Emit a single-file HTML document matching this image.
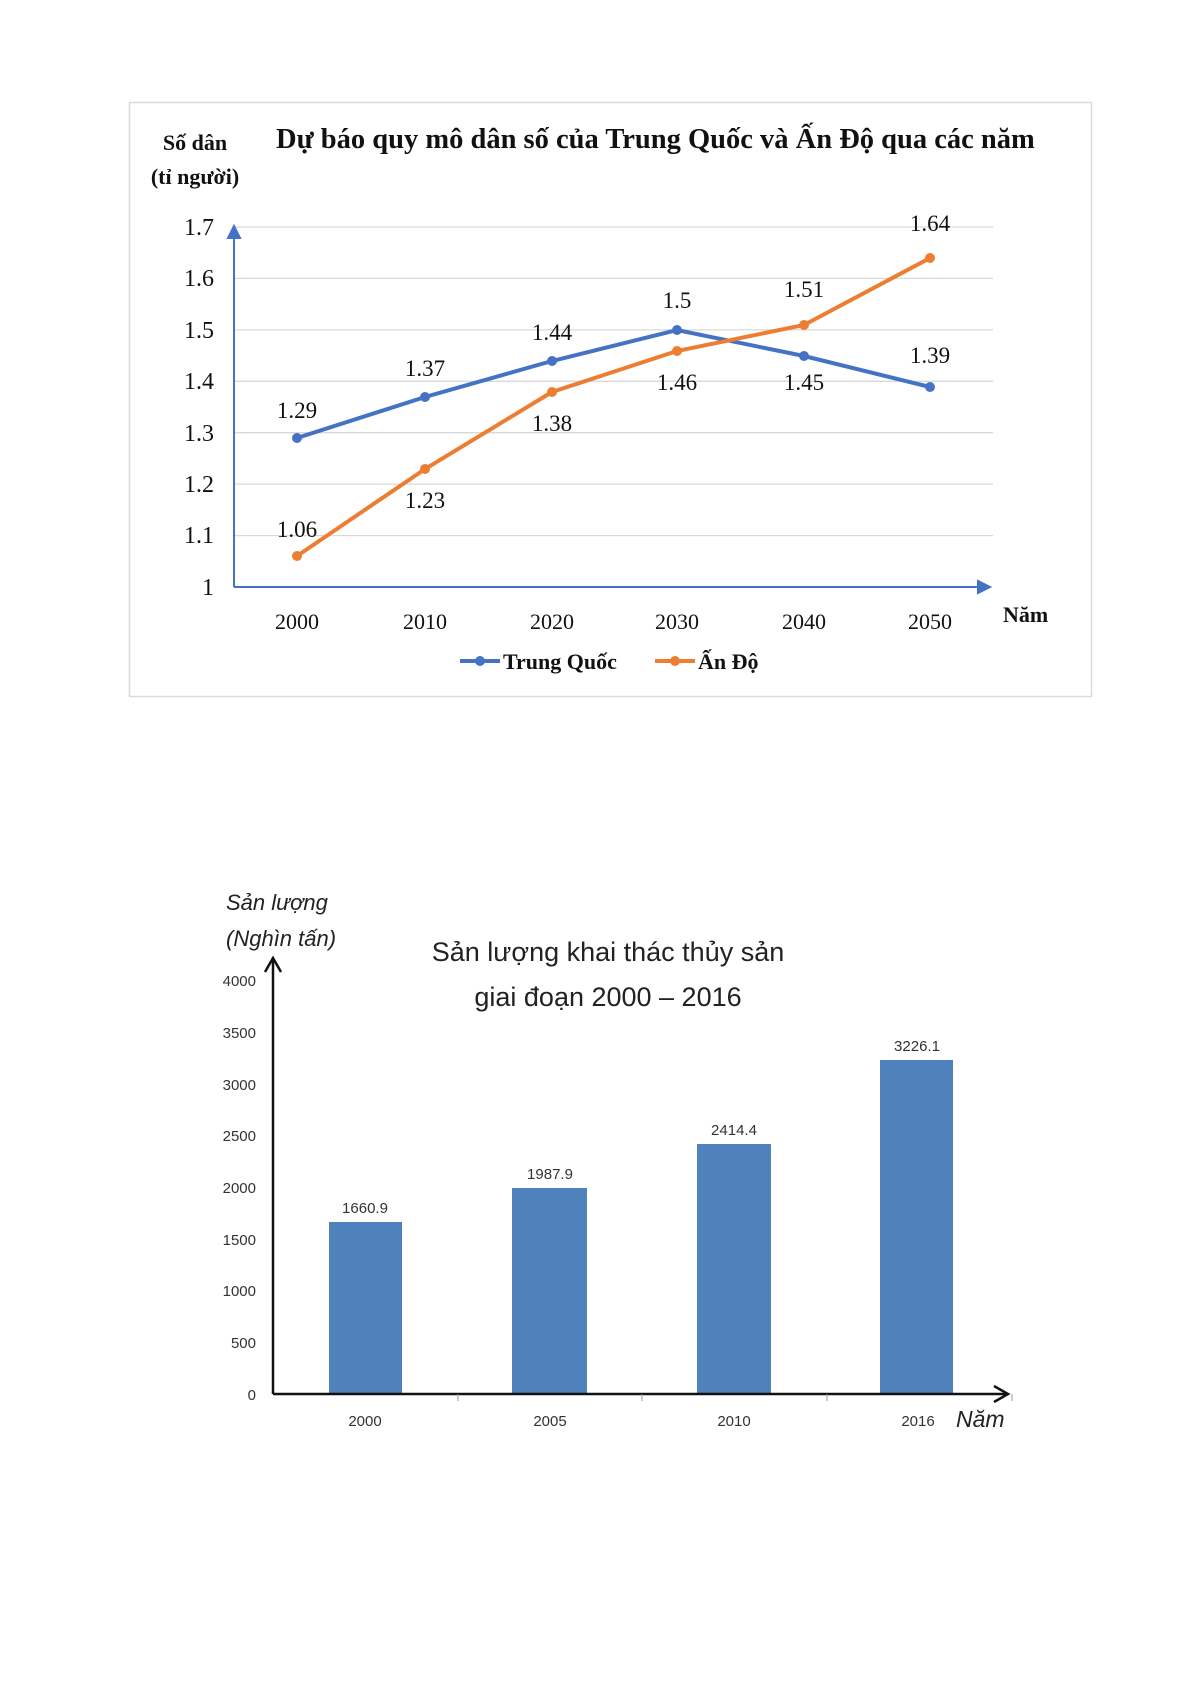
<!DOCTYPE html>
<html><head><meta charset="utf-8"><style>
body{margin:0;background:#fff;width:1192px;height:1684px;overflow:hidden}
svg{position:absolute;left:0;top:0}
.t{font-family:"Liberation Serif",serif}
.s{font-family:"Liberation Sans",sans-serif}
</style></head><body>
<svg width="1192" height="1684" viewBox="0 0 1192 1684">
<rect x="129.5" y="102.5" width="962" height="594" fill="#fff" stroke="#d9d9d9" stroke-width="1.5"/>
<g class="t" font-weight="bold" fill="#111">
<text x="195" y="150" font-size="22" text-anchor="middle">Số dân</text>
<text x="195" y="184" font-size="22" text-anchor="middle">(tỉ người)</text>
<text x="276" y="148" font-size="28.5">Dự báo quy mô dân số của Trung Quốc và Ấn Độ qua các năm</text>
<text x="1003" y="622" font-size="22">Năm</text>
</g>
<g stroke="#d9d9d9" stroke-width="1.3">
<line x1="234" y1="227" x2="993" y2="227"/><line x1="234" y1="278.4" x2="993" y2="278.4"/>
<line x1="234" y1="329.9" x2="993" y2="329.9"/><line x1="234" y1="381.3" x2="993" y2="381.3"/>
<line x1="234" y1="432.7" x2="993" y2="432.7"/><line x1="234" y1="484.1" x2="993" y2="484.1"/>
<line x1="234" y1="535.6" x2="993" y2="535.6"/>
</g>
<g stroke="#4472c4" stroke-width="2" fill="#4472c4">
<line x1="234" y1="587" x2="234" y2="236"/><polygon points="228,238 240,238 234,226"/>
<line x1="234" y1="587" x2="980" y2="587"/><polygon points="978,581 978,593 990,587"/>
</g>
<g class="t" font-size="24" fill="#111" text-anchor="end">
<text x="214" y="235">1.7</text><text x="214" y="286">1.6</text><text x="214" y="338">1.5</text>
<text x="214" y="389">1.4</text><text x="214" y="441">1.3</text><text x="214" y="492">1.2</text>
<text x="214" y="543">1.1</text><text x="214" y="595">1</text>
</g>
<g class="t" font-size="22" fill="#111" text-anchor="middle">
<text x="297" y="629">2000</text><text x="425" y="629">2010</text><text x="552" y="629">2020</text>
<text x="677" y="629">2030</text><text x="804" y="629">2040</text><text x="930" y="629">2050</text>
</g>
<polyline fill="none" stroke="#4472c4" stroke-width="4" points="297,438 425,397 552,361 677,330 804,356 930,387"/>
<polyline fill="none" stroke="#ed7d31" stroke-width="4" points="297,556 425,469 552,392 677,351 804,325 930,258"/>
<g fill="#4472c4"><circle cx="297" cy="438" r="5"/><circle cx="425" cy="397" r="5"/><circle cx="552" cy="361" r="5"/><circle cx="677" cy="330" r="5"/><circle cx="804" cy="356" r="5"/><circle cx="930" cy="387" r="5"/></g>
<g fill="#ed7d31"><circle cx="297" cy="556" r="5"/><circle cx="425" cy="469" r="5"/><circle cx="552" cy="392" r="5"/><circle cx="677" cy="351" r="5"/><circle cx="804" cy="325" r="5"/><circle cx="930" cy="258" r="5"/></g>
<g class="t" font-size="23" fill="#111" text-anchor="middle">
<text x="297" y="418">1.29</text><text x="425" y="376">1.37</text><text x="552" y="340">1.44</text>
<text x="677" y="308">1.5</text><text x="804" y="297">1.51</text><text x="930" y="231">1.64</text>
<text x="297" y="537">1.06</text><text x="425" y="508">1.23</text><text x="552" y="431">1.38</text>
<text x="677" y="390">1.46</text><text x="804" y="390">1.45</text><text x="930" y="363">1.39</text>
</g>
<line x1="460" y1="661" x2="500" y2="661" stroke="#4472c4" stroke-width="4"/><circle cx="480" cy="661" r="5" fill="#4472c4"/>
<line x1="655" y1="661" x2="695" y2="661" stroke="#ed7d31" stroke-width="4"/><circle cx="675" cy="661" r="5" fill="#ed7d31"/>
<g class="t" font-size="22" font-weight="bold" fill="#111">
<text x="503" y="669">Trung  Quốc</text><text x="698" y="669">Ấn Độ</text>
</g>

<g class="s" fill="#222">
<text x="226" y="910" font-size="22" font-style="italic">Sản lượng</text>
<text x="226" y="946" font-size="22" font-style="italic">(Nghìn tấn)</text>
<text x="608" y="961" font-size="27" text-anchor="middle">Sản lượng khai thác thủy sản</text>
<text x="608" y="1006" font-size="27" text-anchor="middle">giai đoạn 2000 – 2016</text>
<text x="956" y="1427" font-size="23" font-style="italic">Năm</text>
</g>
<g fill="#4f81bd">
<rect x="329" y="1222" width="73" height="172"/><rect x="512" y="1188" width="75" height="206"/>
<rect x="697" y="1144" width="74" height="250"/><rect x="880" y="1060" width="73" height="334"/>
</g>
<g stroke="#111" stroke-width="2.5" fill="none">
<line x1="273" y1="1394" x2="273" y2="960"/><polyline points="265,972 273,958 281,972"/>
<line x1="273" y1="1394" x2="1006" y2="1394"/><polyline points="994,1386 1008,1394 994,1402"/>
</g>
<g stroke="#999" stroke-width="1">
<line x1="458" y1="1394" x2="458" y2="1401"/><line x1="642" y1="1394" x2="642" y2="1401"/><line x1="827" y1="1394" x2="827" y2="1401"/><line x1="1012" y1="1394" x2="1012" y2="1401"/>
</g>
<g class="s" font-size="15" fill="#333" text-anchor="end">
<text x="256" y="986">4000</text><text x="256" y="1038">3500</text><text x="256" y="1090">3000</text>
<text x="256" y="1141">2500</text><text x="256" y="1193">2000</text><text x="256" y="1245">1500</text>
<text x="256" y="1296">1000</text><text x="256" y="1348">500</text><text x="256" y="1400">0</text>
</g>
<g class="s" font-size="15" fill="#333" text-anchor="middle">
<text x="365" y="1426">2000</text><text x="550" y="1426">2005</text><text x="734" y="1426">2010</text><text x="918" y="1426">2016</text>
<text x="365" y="1213">1660.9</text><text x="550" y="1179">1987.9</text><text x="734" y="1135">2414.4</text><text x="917" y="1051">3226.1</text>
</g>
</svg>
</body></html>
